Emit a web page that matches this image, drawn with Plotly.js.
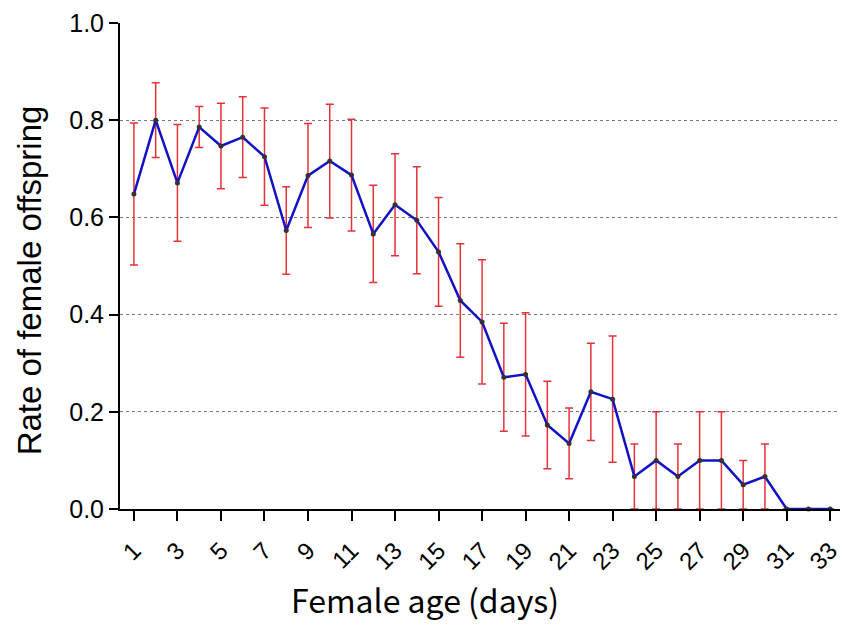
<!DOCTYPE html>
<html>
<head>
<meta charset="utf-8">
<script src="https://cdn.plot.ly/plotly-3.0.1.min.js"></script>
<style>html,body{margin:0;padding:0;background:#fff;}#chart{width:842px;height:626px;}</style>
</head>
<body>
<div id="chart"></div>
<script>
const days = [1,2,3,4,5,6,7,8,9,10,11,12,13,14,15,16,17,18,19,20,21,22,23,24,25,26,27,28,29,30,31,32,33];
const femaleRate = [0.648,0.800,0.671,0.786,0.747,0.765,0.725,0.573,0.686,0.716,0.687,0.566,0.626,0.594,0.529,0.429,0.385,0.271,0.277,0.173,0.135,0.241,0.226,0.067,0.100,0.067,0.100,0.100,0.050,0.067,0,0,0];
const rateError = [0.146,0.077,0.120,0.042,0.088,0.083,0.100,0.090,0.107,0.117,0.115,0.100,0.105,0.110,0.112,0.117,0.128,0.111,0.127,0.090,0.073,0.100,0.130,0.067,0.100,0.067,0.100,0.100,0.050,0.067,0,0,0];
const xTickVals = [1,3,5,7,9,11,13,15,17,19,21,23,25,27,29,31,33];
const yTickVals = [0,0.2,0.4,0.6,0.8,1.0];
const yTickText = ['0.0','0.2','0.4','0.6','0.8','1.0'];
const xTitle = 'Female age (days)';
const yTitle = 'Rate of female offspring';

const errMinus = femaleRate.map((v,i)=>Math.min(rateError[i], v));

const trace = {
  x: days, y: femaleRate, type: 'scatter', mode: 'lines+markers',
  line: {color: '#1212c4', width: 2.5},
  marker: {color: '#333333', size: 5},
  cliponaxis: false,
  error_y: {type: 'data', symmetric: false, array: rateError, arrayminus: errMinus,
            color: '#e5323a', thickness: 1.5, width: 4},
  showlegend: false
};

const layout = {
  width: 842, height: 626,
  margin: {l: 120, r: 2, t: 23, b: 117},
  paper_bgcolor: '#fff', plot_bgcolor: '#fff',
  font: {family: 'Liberation Sans, Arial, sans-serif', color: '#000'},
  xaxis: {
    range: [0.36, 33.45], tickmode: 'array', tickvals: xTickVals,
    ticks: 'outside', ticklen: 10, tickwidth: 2, tickcolor: '#000',
    tickangle: -45, tickfont: {size: 24, color: '#000'},
    ticklabelshift: 0, ticklabelstandoff: 6, ticklabeloverflow: 'allow',
    showline: true, linecolor: '#000', linewidth: 2,
    showgrid: false, zeroline: false
  },
  yaxis: {
    range: [0, 1], tickmode: 'array', tickvals: yTickVals, ticktext: yTickText,
    ticks: 'outside', ticklen: 9, tickwidth: 2, tickcolor: '#000',
    tickfont: {size: 25, color: '#000'},
    showline: true, linecolor: '#000', linewidth: 2,
    showgrid: true, gridcolor: '#777', griddash: 'dot', gridwidth: 1,
    zeroline: false
  },
  annotations: [
    {text: yTitle, xref: 'paper', yref: 'paper', x: -0.126, y: 0.471,
     textangle: -90, showarrow: false, xanchor: 'center', yanchor: 'middle',
     font: {size: 33, family: 'Liberation Sans, Arial, sans-serif', color: '#000'}},
    {text: xTitle, xref: 'paper', yref: 'paper', x: 0.424, y: -0.185,
     showarrow: false, xanchor: 'center', yanchor: 'middle',
     font: {size: 32, family: 'Noto Sans CJK KR, sans-serif', color: '#000'}}
  ]
};

Plotly.newPlot('chart', [trace], layout, {displayModeBar: false, staticPlot: true});
</script>
</body>
</html>
